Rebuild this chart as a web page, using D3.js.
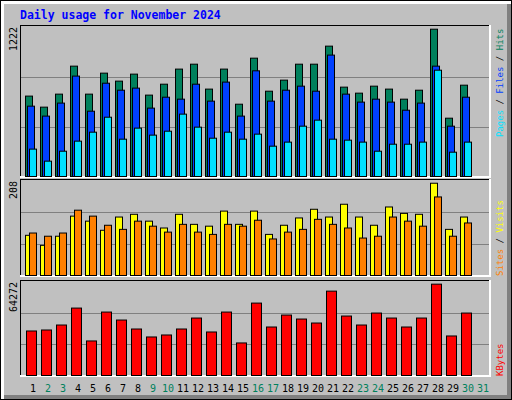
<!DOCTYPE html>
<html><head><meta charset="utf-8">
<script src="https://cdn.jsdelivr.net/npm/d3@7"></script>
<style>body{margin:0;background:#fff}text{font-family:"DejaVu Sans Mono",monospace}</style>
</head><body><svg id="chart" width="512" height="400"></svg>
<script>
// daily values
let days = d3.range(1, 32);
let weekend = [2, 3, 9, 10, 16, 17, 23, 24, 30, 31];
let hits  = [655,565,671,899,671,842,777,834,663,752,875,915,712,875,589,964,695,785,915,915,1062,728,679,736,712,630,703,1200,475,744,0];
let files = [573,492,598,818,532,760,703,720,557,646,630,752,614,769,492,861,614,703,736,695,989,671,606,630,606,540,598,899,410,646,0];
let pages = [223,125,206,288,361,483,304,394,337,369,508,402,312,361,304,345,247,280,410,459,304,296,280,206,263,263,280,866,198,280,0];
let sites  = [88,66,86,130,119,99,128,134,119,104,134,112,108,141,112,141,90,110,126,145,128,156,128,110,150,136,134,202,101,128,0];
let visits = [93,86,93,143,130,110,101,119,108,95,112,95,90,112,108,121,80,95,101,123,112,104,82,86,128,119,108,172,86,115,0];
let kbytes = [30432,31113,34519,46101,23618,43376,37926,31794,26344,27706,31794,39288,29750,43376,22256,49508,33157,41332,38607,35882,57683,40651,34519,42695,39288,33157,39288,62452,27025,42695,0];
let maxTop = 1222, maxMid = 208, maxBot = 64272;

let svg = d3.select("#chart");
let W = 512, H = 400;

// outer frame
svg.append("rect").attr("width", W).attr("height", H).attr("fill", "#000");
svg.append("rect").attr("x", 1).attr("y", 1).attr("width", W - 2).attr("height", H - 2).attr("fill", "#fff");
svg.append("rect").attr("x", 4).attr("y", 4).attr("width", W - 5).attr("height", H - 5).attr("fill", "#808080");
svg.append("rect").attr("x", 4).attr("y", 4).attr("width", W - 9).attr("height", H - 9).attr("fill", "#c0c0c0");

svg.append("text").attr("x", 20).attr("y", 19).attr("fill", "#0000ff")
    .style("font-size", "11.5px").style("font-weight", "bold")
    .text("Daily usage for November 2024");

let x = d3.scaleBand().domain(days).range([22.5, 487.5]);

let panels = [
    {top: 25, bottom: 178, max: maxTop, label: "1222"},
    {top: 179, bottom: 277, max: maxMid, label: "208"},
    {top: 280, bottom: 377, max: maxBot, label: "64272"}
];

panels.forEach(function (p) {
    svg.append("rect").attr("x", 20).attr("y", p.top).attr("width", 471).attr("height", p.bottom - p.top)
        .attr("fill", "#fff");
    svg.append("rect").attr("x", 20).attr("y", p.top).attr("width", 469).attr("height", p.bottom - p.top - 2)
        .attr("fill", "#000");
    svg.append("rect").attr("x", 21).attr("y", p.top + 1).attr("width", 468).attr("height", p.bottom - p.top - 3)
        .attr("fill", "#c0c0c0");
    p.y = d3.scaleLinear().domain([0, p.max]).range([p.bottom - 1.5, p.top + 1.5]);
    [1 / 3, 2 / 3].forEach(function (f) {
        svg.append("line").attr("x1", 21).attr("x2", 489)
            .attr("y1", Math.round(p.y(p.max * f)) + 0.5).attr("y2", Math.round(p.y(p.max * f)) + 0.5)
            .attr("stroke", "#808080");
    });
    svg.append("text").attr("transform", "translate(17," + (p.top + 2) + ") rotate(-90)")
        .attr("text-anchor", "end").style("font-size", "10px").attr("fill", "#000").text(p.label);
});

function bars(values, panel, offset, width, color) {
    svg.append("g").selectAll("rect")
        .data(days.filter((d, i) => values[i] > 0))
        .enter().append("rect")
        .attr("x", d => x(d) + offset)
        .attr("width", width)
        .attr("y", d => panel.y(values[d - 1]))
        .attr("height", d => panel.y(0) - panel.y(values[d - 1]))
        .attr("fill", color).attr("stroke", "#000").attr("stroke-width", 1);
}

bars(hits, panels[0], 3, 7, "#00805c");
bars(files, panels[0], 5, 7, "#0040ff");
bars(pages, panels[0], 7, 7, "#00e0ff");
bars(sites, panels[1], 3, 7, "#ffff00");
bars(visits, panels[1], 7, 7, "#ff8000");
bars(kbytes, panels[2], 4, 10, "#ff0000");

// day labels
svg.append("g").selectAll("text").data(days).enter().append("text")
    .attr("x", d => x(d) + 10.5).attr("y", 392).attr("text-anchor", "middle")
    .style("font-size", "10px")
    .attr("fill", d => weekend.includes(d) ? "#00805c" : "#000")
    .text(d => d);

// right legends
function legend(yStart, parts) {
    let t = svg.append("text").attr("transform", "translate(503," + yStart + ") rotate(-90)")
        .style("font-size", "9px");
    parts.forEach(function (p) {
        t.append("tspan").attr("fill", p[1]).text(p[0]);
    });
}
legend(137, [["Pages", "#00e0ff"], [" / ", "#000"], ["Files", "#0040ff"], [" / ", "#000"], ["Hits", "#00805c"]]);
legend(276, [["Sites", "#ff8000"], [" / ", "#000"], ["Visits", "#ffff00"]]);
legend(376, [["KBytes", "#ff0000"]]);
</script></body></html>
